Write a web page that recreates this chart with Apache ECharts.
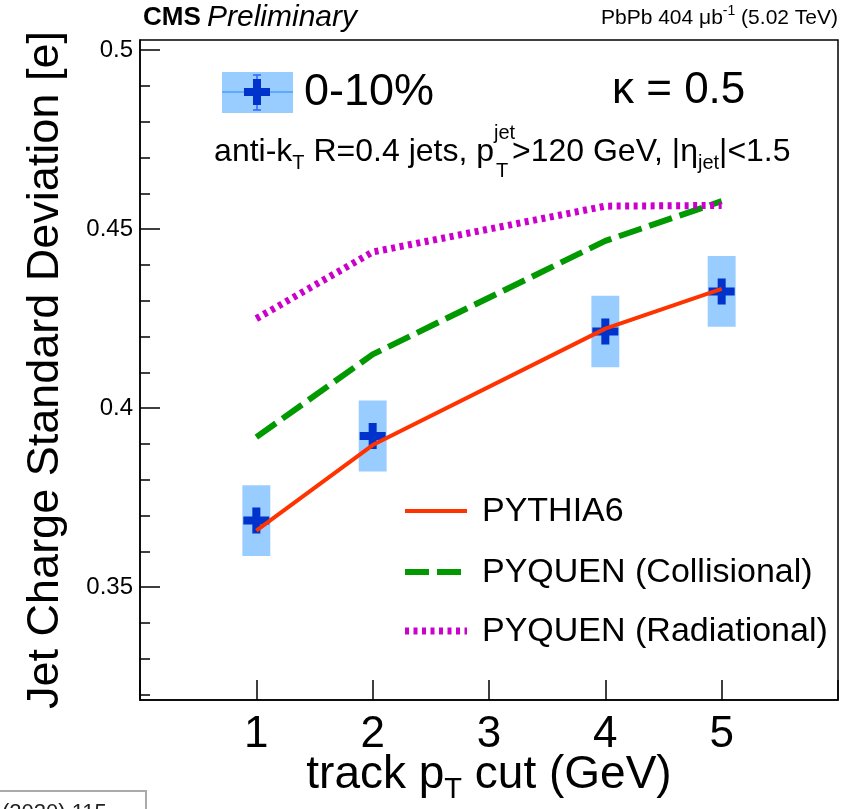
<!DOCTYPE html>
<html>
<head>
<meta charset="utf-8">
<script src="https://cdn.jsdelivr.net/npm/echarts@6/dist/echarts.min.js"></script>
<style>
  html, body { margin: 0; padding: 0; background: #ffffff; }
  #chart { width: 854px; height: 809px; }
</style>
</head>
<body>
<div id="chart"></div>
<script>
// Track pT thresholds (GeV) at which the jet charge width was measured
const trackPtCut = [1, 2, 4, 5];

// 0-10% centrality PbPb data and its systematic uncertainty
const dataValues = [0.3686, 0.3922, 0.4214, 0.4326];
const dataSyst = [0.0099, 0.0099, 0.0100, 0.0099];

// Generator predictions
const pythia6 = [0.3658, 0.3897, 0.4222, 0.4333];
const pyquenCollisional = [0.3919, 0.4150, 0.4467, 0.4578];
const pyquenRadiational = [0.4250, 0.4436, 0.4564, 0.4566];

// Axis ticks
const xTickValues = [1, 2, 3, 4, 5];
const yMajorTicks = [0.35, 0.40, 0.45, 0.50];
const yMinorTicks = [0.32, 0.33, 0.34, 0.35, 0.36, 0.37, 0.38, 0.39, 0.40,
                     0.41, 0.42, 0.43, 0.44, 0.45, 0.46, 0.47, 0.48, 0.49, 0.50];

const FONT = '"Liberation Sans", Arial, Helvetica, sans-serif';
const BOX_HALF_WIDTH = 0.12;   // x-units
const CROSS = 'path://M9,0 H17 V9 H26 V17 H17 V26 H9 V17 H0 V9 H9 Z';

const chart = echarts.init(document.getElementById('chart'), null, { renderer: 'canvas' });

const pointData = trackPtCut.map((x, i) => [x, dataValues[i]]);
const boxData = trackPtCut.map((x, i) => [x, dataValues[i], dataSyst[i]]);
const line = (ys) => trackPtCut.map((x, i) => [x, ys[i]]);

const yRange = { min: 0.3185, max: 0.5028 };

const option = {
  animation: false,
  backgroundColor: '#ffffff',
  textStyle: { fontFamily: FONT },
  grid: {
    left: 140, top: 40, right: 16, bottom: 109,
    show: true, borderColor: '#000', borderWidth: 1.5, backgroundColor: 'transparent',
    outerBoundsMode: 'none'
  },
  xAxis: {
    type: 'value', min: 0, max: 6, interval: 1,
    axisLine: { show: true, onZero: false, lineStyle: { color: '#000', width: 1.5 } },
    axisTick: { show: true, inside: true, length: 20, lineStyle: { color: '#000', width: 1.5 } },
    axisLabel: {
      margin: 13, color: '#000', fontSize: 44, fontFamily: FONT,
      formatter: (v) => (xTickValues.indexOf(Math.round(v)) >= 0 && Math.abs(v - Math.round(v)) < 1e-6) ? String(Math.round(v)) : ''
    },
    splitLine: { show: false },
    name: '{a|track p}{s|T}{a| cut (GeV)}',
    nameLocation: 'middle', nameGap: 46, nameMoveOverlap: false,
    nameTextStyle: {
      color: '#000', fontFamily: FONT,
      rich: {
        a: { fontSize: 46, lineHeight: 58, fontFamily: FONT, color: '#000' },
        s: { fontSize: 29, lineHeight: 29, verticalAlign: 'bottom', fontFamily: FONT, color: '#000' }
      }
    }
  },
  yAxis: [
    {
      type: 'value', min: yRange.min, max: yRange.max,
      axisLine: { show: true, lineStyle: { color: '#000', width: 1.5 } },
      axisTick: { show: true, inside: true, length: 20, customValues: yMajorTicks, lineStyle: { color: '#000', width: 1.5 } },
      axisLabel: {
        customValues: yMajorTicks, margin: 7, color: '#000', fontSize: 24, fontFamily: FONT,
        formatter: (v) => String(parseFloat(v.toFixed(2)))
      },
      splitLine: { show: false },
      name: 'Jet Charge Standard Deviation [e]',
      nameLocation: 'middle', nameGap: 72, nameRotate: 90, nameMoveOverlap: false,
      nameTextStyle: { color: '#000', fontSize: 45, fontFamily: FONT }
    },
    {
      type: 'value', min: yRange.min, max: yRange.max, position: 'left',
      axisLine: { show: false },
      axisTick: { show: true, inside: true, length: 10, customValues: yMinorTicks, lineStyle: { color: '#000', width: 1.5 } },
      axisLabel: { show: false },
      splitLine: { show: false }
    }
  ],
  series: [
    {
      name: 'syst', type: 'custom', z: 1,
      data: boxData,
      renderItem: (params, api) => {
        const x = api.value(0), y = api.value(1), e = api.value(2);
        const p0 = api.coord([x - BOX_HALF_WIDTH, y + e]);
        const p1 = api.coord([x + BOX_HALF_WIDTH, y - e]);
        return {
          type: 'rect',
          shape: { x: p0[0], y: p0[1], width: p1[0] - p0[0], height: p1[1] - p0[1] },
          style: { fill: '#99ccff' }
        };
      }
    },
    {
      name: '0-10%', type: 'scatter', z: 2,
      data: pointData, symbol: CROSS, symbolSize: 26,
      itemStyle: { color: '#0033cc', opacity: 1 }
    },
    {
      name: 'PYTHIA6', type: 'line', z: 3, data: line(pythia6),
      showSymbol: false, symbol: 'none', smooth: false,
      lineStyle: { color: '#ff3300', width: 4 }
    },
    {
      name: 'PYQUEN (Collisional)', type: 'line', z: 3, data: line(pyquenCollisional),
      showSymbol: false, symbol: 'none', smooth: false,
      lineStyle: { color: '#009900', width: 6, type: [24, 8], cap: 'butt' }
    },
    {
      name: 'PYQUEN (Radiational)', type: 'line', z: 3, data: line(pyquenRadiational),
      showSymbol: false, symbol: 'none', smooth: false,
      lineStyle: { color: '#cc00cc', width: 7, type: [4, 4.5], cap: 'butt' }
    }
  ],
  graphic: [
    // header
    { type: 'text', z: 10, style: { x: 143, y: 18, text: 'CMS', verticalAlign: 'middle', font: 'bold 26px ' + FONT, fill: '#000' } },
    { type: 'text', z: 10, style: { x: 207, y: 18, text: 'Preliminary', verticalAlign: 'middle', font: 'italic 30px ' + FONT, fill: '#000' } },
    { type: 'text', z: 10, style: {
        x: 838, y: 18, align: 'right', verticalAlign: 'middle',
        text: '{a|PbPb 404 \u03bcb}{s|-1}{a| (5.02 TeV)}',
        rich: {
          a: { fontSize: 21, lineHeight: 28, fontFamily: FONT, fill: '#000' },
          s: { fontSize: 14, lineHeight: 14, verticalAlign: 'top', fontFamily: FONT, fill: '#000' }
        }
    } },
    // data legend entry
    { type: 'rect', z: 10, shape: { x: 222, y: 72, width: 71, height: 41 }, style: { fill: '#99ccff' } },
    { type: 'line', z: 11, shape: { x1: 222, y1: 92, x2: 293, y2: 92 }, style: { stroke: '#4d9fff', lineWidth: 1.5 } },
    { type: 'line', z: 11, shape: { x1: 257, y1: 75, x2: 257, y2: 110 }, style: { stroke: '#3366ff', lineWidth: 1.5 } },
    { type: 'line', z: 11, shape: { x1: 253, y1: 75, x2: 261, y2: 75 }, style: { stroke: '#3366ff', lineWidth: 1.5 } },
    { type: 'line', z: 11, shape: { x1: 253, y1: 110, x2: 261, y2: 110 }, style: { stroke: '#3366ff', lineWidth: 1.5 } },
    { type: 'rect', z: 12, shape: { x: 244, y: 88, width: 26, height: 8 }, style: { fill: '#0033cc' } },
    { type: 'rect', z: 12, shape: { x: 253, y: 79, width: 8, height: 26 }, style: { fill: '#0033cc' } },
    { type: 'text', z: 10, style: { x: 304, y: 93, text: '0-10%', verticalAlign: 'middle', font: '45px ' + FONT, fill: '#000' } },
    { type: 'text', z: 10, style: { x: 612, y: 91, text: '\u03ba = 0.5', verticalAlign: 'middle', font: '44px ' + FONT, fill: '#000' } },
    // selection line
    { type: 'text', z: 10, style: {
        x: 494, y: 152, align: 'right', verticalAlign: 'middle',
        text: '{a|anti-k}{s|T}{a| R=0.4 jets, p}',
        rich: {
          a: { fontSize: 32, lineHeight: 42, fontFamily: FONT, fill: '#000' },
          s: { fontSize: 20, lineHeight: 20, verticalAlign: 'bottom', fontFamily: FONT, fill: '#000' }
        }
    } },
    { type: 'text', z: 10, style: { x: 494, y: 133, text: 'jet', verticalAlign: 'middle', font: '20px ' + FONT, fill: '#000' } },
    { type: 'text', z: 10, style: { x: 496, y: 171, text: 'T', verticalAlign: 'middle', font: '20px ' + FONT, fill: '#000' } },
    { type: 'text', z: 10, style: {
        x: 512, y: 152, align: 'left', verticalAlign: 'middle',
        text: '{a|>120 GeV, |\u03b7}{s|jet}{a||<1.5}',
        rich: {
          a: { fontSize: 32, lineHeight: 42, fontFamily: FONT, fill: '#000' },
          s: { fontSize: 20, lineHeight: 20, verticalAlign: 'bottom', fontFamily: FONT, fill: '#000' }
        }
    } },
    // model legend
    { type: 'line', z: 10, shape: { x1: 405, y1: 511, x2: 467, y2: 511 }, style: { stroke: '#ff3300', lineWidth: 4 } },
    { type: 'line', z: 10, shape: { x1: 405, y1: 572, x2: 467, y2: 572 }, style: { stroke: '#009900', lineWidth: 6, lineDash: [24, 8] } },
    { type: 'line', z: 10, shape: { x1: 405, y1: 631, x2: 467, y2: 631 }, style: { stroke: '#cc00cc', lineWidth: 7, lineDash: [4, 4.5] } },
    { type: 'text', z: 10, style: { x: 482, y: 512, text: 'PYTHIA6', verticalAlign: 'middle', font: '34px ' + FONT, fill: '#000' } },
    { type: 'text', z: 10, style: { x: 482, y: 573, text: 'PYQUEN (Collisional)', verticalAlign: 'middle', font: '34px ' + FONT, fill: '#000' } },
    { type: 'text', z: 10, style: { x: 482, y: 632, text: 'PYQUEN (Radiational)', verticalAlign: 'middle', font: '34px ' + FONT, fill: '#000' } },
    // citation box at the lower-left corner
    { type: 'rect', z: 10, shape: { x: -2, y: 791, width: 148, height: 40 }, style: { fill: '#ffffff', stroke: '#aaaaaa', lineWidth: 2 } },
    { type: 'text', z: 11, style: { x: 2, y: 802, text: '(2020) 115', font: '22px ' + FONT, fill: '#222' } }
  ]
};

chart.setOption(option);
</script>
</body>
</html>
